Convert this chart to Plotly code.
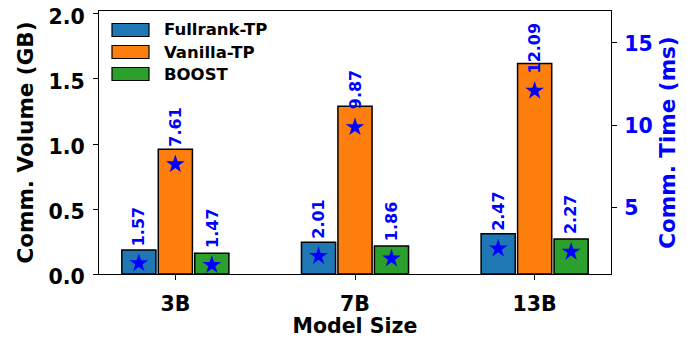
import plotly.graph_objects as go

categories = ["3B", "7B", "13B"]
series_names = ["Fullrank-TP", "Vanilla-TP", "BOOST"]
volume_gb = {
    "Fullrank-TP": [0.185, 0.245, 0.31],
    "Vanilla-TP": [0.96, 1.29, 1.62],
    "BOOST": [0.16, 0.215, 0.27],
}
time_ms = {
    "Fullrank-TP": [1.57, 2.01, 2.47],
    "Vanilla-TP": [7.61, 9.87, 12.09],
    "BOOST": [1.47, 1.86, 2.27],
}
colors = {"Fullrank-TP": "#1f77b4", "Vanilla-TP": "#ff7f0e", "BOOST": "#2ca02c"}
offsets = {"Fullrank-TP": -0.203, "Vanilla-TP": 0.0, "BOOST": 0.203}
star_color = "#0000ff"

# page body has an 8px margin: compensate so the plot lands where the reference has it
PAD = 8
W, H = 687 - PAD, 338 - PAD
L, T = 99 - PAD, 11 - PAD
R = W - (611 - PAD)
B = H - (274 - PAD)
pw, ph = W - L - R, H - T - B

def px_x(x):  # screen pixel -> paper
    return (x - PAD - L) / pw

def px_y(y):
    return (H - B - (y - PAD)) / ph

FONT = "DejaVu Sans"

fig = go.Figure()
annotations = []
shapes = []
base = list(range(len(categories)))

for name in series_names:
    xs = [b + offsets[name] for b in base]
    fig.add_trace(go.Bar(
        x=xs, y=volume_gb[name], width=0.19, name=name,
        marker=dict(color=colors[name], line=dict(color="black", width=1.5)),
        showlegend=False, yaxis="y",
    ))
    fig.add_trace(go.Scatter(
        x=xs, y=time_ms[name], mode="markers", yaxis="y2",
        marker=dict(symbol="star", size=14, color=star_color, line=dict(width=0)),
        showlegend=False,
    ))
    for x, t in zip(xs, time_ms[name]):
        annotations.append(dict(
            x=x, y=t + 1.0, xref="x", yref="y2", text=f"{t:.2f}",
            showarrow=False, textangle=-90, xanchor="center", yanchor="bottom",
            font=dict(family=FONT, size=16, color=star_color, weight="bold"),
            borderpad=0,
        ))

# manual legend (matplotlib style)
leg_rows = [30, 52, 74]
for name, cy in zip(series_names, leg_rows):
    shapes.append(dict(
        type="rect", xref="paper", yref="paper",
        x0=px_x(112), x1=px_x(149), y0=px_y(cy + 6.5), y1=px_y(cy - 6.5),
        fillcolor=colors[name], line=dict(color="black", width=1.2),
    ))
    annotations.append(dict(
        x=px_x(162), y=px_y(cy), xref="paper", yref="paper", text=name,
        showarrow=False, xanchor="left", yanchor="middle",
        font=dict(family=FONT, size=16.5, color="black", weight="bold"),
    ))

fig.update_layout(
    width=W, height=H,
    margin=dict(l=L, r=R, t=T, b=B, autoexpand=False),
    paper_bgcolor="white", plot_bgcolor="white",
    font=dict(family=FONT, size=20, color="black", weight="bold"),
    barmode="overlay",
    xaxis=dict(
        range=[-0.425, 2.425], tickmode="array", tickvals=base, ticktext=categories,
        showline=True, linecolor="black", linewidth=1.2, mirror=True,
        ticks="outside", ticklen=5, tickcolor="black", showgrid=False, zeroline=False,
        title=dict(text="Model Size", font=dict(size=20.5), standoff=10),
        tickfont=dict(size=20.5), ticklabelstandoff=6, automargin=False,
        ticklabeloverflow="allow",
    ),
    yaxis=dict(
        range=[0, 2.023], tickvals=[0, 0.5, 1.0, 1.5, 2.0], tickformat=".1f",
        showline=True, linecolor="black", linewidth=1.2,
        ticks="outside", ticklen=5, tickcolor="black", showgrid=False, zeroline=False,
        title=dict(text="Comm. Volume (GB)", font=dict(size=21.5), standoff=8),
        tickfont=dict(size=20.5), ticklabelstandoff=4, ticklabelshift=3,
        automargin=False, ticklabeloverflow="allow",
    ),
    yaxis2=dict(
        overlaying="y", side="right", range=[0.92, 16.95], tickvals=[5, 10, 15],
        showline=True, linecolor="black", linewidth=1.2,
        ticks="outside", ticklen=5, tickcolor="black", showgrid=False, zeroline=False,
        title=dict(text="Comm. Time (ms)", font=dict(size=21.5, color=star_color), standoff=8),
        tickfont=dict(size=20.5, color=star_color), ticklabelstandoff=3, ticklabelshift=1,
        automargin=False, ticklabeloverflow="allow",
    ),
    annotations=annotations,
    shapes=shapes,
)

fig.write_html("out.html")
